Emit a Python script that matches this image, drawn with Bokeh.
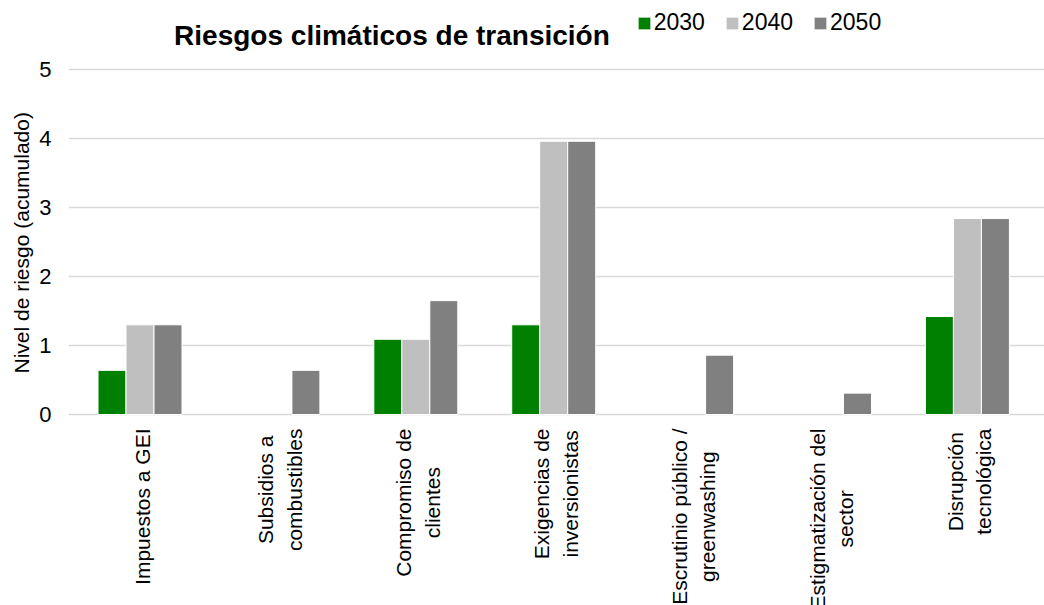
import numpy as np
from bokeh.plotting import figure
from bokeh.models import (ColumnDataSource, Range1d, FixedTicker, Legend, LegendItem,
                          Title, BooleanFilter, CDSView)
from bokeh.core.properties import value
from bokeh.embed import file_html
from bokeh.resources import INLINE

# ---- data ----
categories = [
    "Impuestos a GEI",
    "Subsidios a\ncombustibles",
    "Compromiso de\nclientes",
    "Exigencias de\ninversionistas",
    "Escrutinio público /\ngreenwashing",
    "Estigmatización del\nsector",
    "Disrupción\ntecnológica",
]
years = ["2030", "2040", "2050"]
v2030 = [0.64, 0.0, 1.09, 1.30, 0.0, 0.0, 1.42]
v2040 = [1.30, 0.0, 1.09, 3.96, 0.0, 0.0, 2.84]
v2050 = [1.30, 0.64, 1.65, 3.96, 0.86, 0.31, 2.84]
y_ticks = [0, 1, 2, 3, 4, 5]
title_text = "Riesgos climáticos de transición"
y_label = "Nivel de riesgo (acumulado)"

colors = ["#008000", "#bfbfbf", "#808080"]
FONT = "Liberation Sans"

idx = np.arange(len(categories))

p = figure(width=1044, height=605,
           x_range=Range1d(-0.5185, 6.559), y_range=Range1d(-2.768, 6.0),
           x_axis_location=None, y_axis_location="left",
           min_border_left=68, min_border_right=0, min_border_top=0, min_border_bottom=0,
           output_backend="svg", toolbar_location=None)
p.outline_line_color = None
p.background_fill_color = "white"
p.border_fill_color = "white"

# y axis
yax = p.yaxis[0]
yax.ticker = FixedTicker(ticks=y_ticks)
yax.axis_line_color = None
yax.major_tick_line_color = None
yax.minor_tick_line_color = None
yax.major_tick_in = 0
yax.major_tick_out = 0
yax.minor_tick_out = 0
yax.major_label_standoff = 17
yax.major_label_text_font = FONT
yax.major_label_text_font_size = "22px"
yax.major_label_text_color = "#000000"

p.xgrid.visible = False
p.ygrid.grid_line_color = "#d9d9d9"
p.ygrid.grid_line_width = 1.5

# bars
series = [v2030, v2040, v2050]
offsets = [-0.203, 0.0, 0.203]
items = []
for name, vals, col, off in zip(years, series, colors, offsets):
    src = ColumnDataSource(dict(x=idx + off, top=vals))
    view = CDSView(filter=BooleanFilter([v > 0 for v in vals]))
    r = p.vbar(x="x", top="top", bottom=0, width=0.203, source=src, view=view,
               fill_color=col, line_color="white", line_width=1)
    items.append(LegendItem(label=name, renderers=[r]))

legend = Legend(items=items, orientation="horizontal", location=(567.7, 569),
                glyph_width=16, glyph_height=16, label_standoff=2, spacing=19,
                padding=0, margin=0, border_line_color=None, background_fill_alpha=0,
                label_text_font=FONT, label_text_font_size="23px",
                label_text_color="#000000")
p.add_layout(legend, "center")

# category labels (rotated, cut at the bottom edge like the reference)
lab_src = ColumnDataSource(dict(x=idx, y=[0] * len(categories), text=categories))
p.text(x="x", y="y", text="text", source=lab_src, angle=np.pi / 2,
       anchor="center_right", text_align="center", y_offset=14, x_offset=2,
       text_font=value(FONT), text_font_size="21px", text_color="#000000",
       text_line_height=1.25)

# chart title
p.text(x=[1.827], y=[5.493], text=[title_text], text_align="center",
       text_baseline="alphabetic", text_font=value(FONT), text_font_size="28px",
       text_font_style="bold", text_color="#000000")

# y axis label (as a left-side title, positioned along the axis)
ylab = Title(text=y_label, align="left", offset=232, standoff=6,
             vertical_align="middle", text_font=FONT, text_font_size="21px",
             text_font_style="normal", text_color="#000000")
p.add_layout(ylab, "left")

open("out.html", "w").write(file_html(p, INLINE))
